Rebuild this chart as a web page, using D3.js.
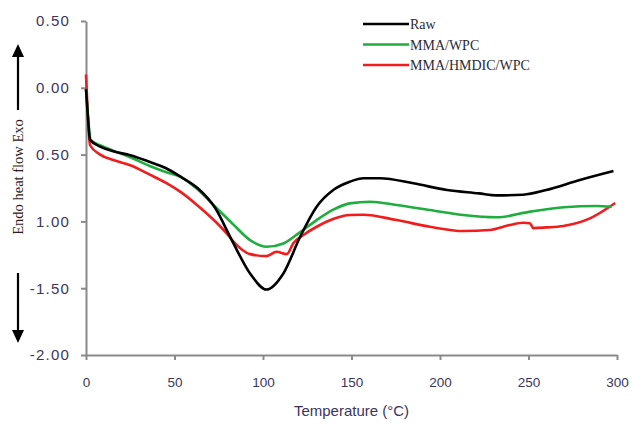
<!DOCTYPE html>
<html>
<head>
<meta charset="utf-8">
<script src="https://cdn.jsdelivr.net/npm/d3@7"></script>
<style>
  body { margin: 0; background: #fff; }
</style>
</head>
<body>
<div id="chart"></div>
<script>
// Data (temperature in °C, heat flow)
const rawT = [0, 1, 2.3, 8, 15.4, 25, 35, 45, 54, 63, 73, 82, 92.7, 102, 111.5, 121, 130.3, 139.7, 149, 157, 166, 185, 204, 222, 232, 247, 260, 279, 298];
const rawV = [-0.01, -0.2, -0.39, -0.44, -0.475, -0.505, -0.55, -0.6, -0.67, -0.75, -0.9, -1.13, -1.39, -1.51, -1.39, -1.115, -0.89, -0.765, -0.703, -0.677, -0.677, -0.715, -0.765, -0.79, -0.805, -0.8, -0.765, -0.69, -0.623];

const wpcT = [0, 1, 2.7, 8, 15.4, 25, 36, 45, 54, 63, 73, 83, 92.7, 102, 111.5, 121, 130.3, 140, 149, 160.5, 175.5, 194.3, 213, 232, 251, 270, 288.5, 297];
const wpcV = [-0.01, -0.2, -0.39, -0.43, -0.47, -0.52, -0.585, -0.63, -0.67, -0.76, -0.89, -1.02, -1.14, -1.19, -1.165, -1.08, -0.99, -0.91, -0.865, -0.853, -0.877, -0.915, -0.952, -0.969, -0.927, -0.894, -0.885, -0.89];

const hmdicT = [0, 1, 2.3, 8, 15.4, 25, 36, 45, 54, 62.5, 73.8, 79.5, 83.2, 88, 92.7, 102, 107.7, 113.4, 117.1, 123, 130.3, 140, 149, 156.7, 175.5, 194.3, 213, 228, 239.5, 247, 250.8, 252.7, 260, 269.7, 284.7, 299];
const hmdicV = [0.1, -0.2, -0.43, -0.5, -0.54, -0.58, -0.65, -0.71, -0.785, -0.875, -1.01, -1.09, -1.15, -1.21, -1.245, -1.26, -1.227, -1.245, -1.164, -1.1, -1.04, -0.98, -0.952, -0.95, -0.99, -1.04, -1.072, -1.064, -1.027, -1.01, -1.014, -1.05, -1.045, -1.034, -0.977, -0.862];

const seriesNames = ["Raw", "MMA/WPC", "MMA/HMDIC/WPC"];
const seriesColors = ["#000000", "#1fae3e", "#f21c1c"];

const xTicks = [0, 50, 100, 150, 200, 250, 300];
const yTicks = [0.5, 0, -0.5, -1, -1.5, -2];
// labels exactly as printed on the reference
const yTickLabels = ["0.50", "0.00", "0.50", "1.00", "-1.50", "-2.00"];

const width = 634, height = 424;
const margin = {top: 21, right: 17, bottom: 69, left: 86};

const svg = d3.select("#chart")
    .append("svg")
    .attr("width", width)
    .attr("height", height)
    .style("background", "#fff");

const xScale = d3.scaleLinear()
    .domain([0, 300])
    .range([margin.left, width - margin.right]);

const yScale = d3.scaleLinear()
    .domain([-2, 0.5])
    .range([height - margin.bottom, margin.top]);

// axes
const xAxis = svg.append("g")
    .attr("transform", `translate(0, ${height - margin.bottom})`)
    .call(d3.axisBottom(xScale).tickValues(xTicks).tickSize(5).tickSizeOuter(0).tickPadding(17));

const yAxis = svg.append("g")
    .attr("transform", `translate(${margin.left}, 0)`)
    .call(d3.axisLeft(yScale).tickValues(yTicks)
        .tickFormat((d, i) => yTickLabels[i])
        .tickSize(5).tickSizeOuter(0).tickPadding(11));

[xAxis, yAxis].forEach(ax => {
    ax.select(".domain").attr("stroke", "#8a8a8a").attr("stroke-width", 2);
    ax.selectAll(".tick line").attr("stroke", "#8a8a8a").attr("stroke-width", 2);
});

xAxis.selectAll(".tick text")
    .style("font-family", "Arial, 'Liberation Sans', sans-serif")
    .style("font-size", "13.5px")
    .attr("fill", "#3a3560");

yAxis.selectAll(".tick text")
    .style("font-family", "Arial, 'Liberation Sans', sans-serif")
    .style("font-size", "15px")
    .style("letter-spacing", "1.2px")
    .attr("fill", "#3a3560");

// lines
const line = d3.line()
    .x(d => xScale(d[0]))
    .y(d => yScale(d[1]))
    .curve(d3.curveMonotoneX);

const series = [
    d3.zip(rawT, rawV),
    d3.zip(wpcT, wpcV),
    d3.zip(hmdicT, hmdicV)
];

// draw red first so black sits on top like the reference
[2, 1, 0].forEach(i => {
    svg.append("path")
        .datum(series[i])
        .attr("d", line)
        .attr("fill", "none")
        .attr("stroke", seriesColors[i])
        .attr("stroke-width", 2.6)
        .attr("stroke-linejoin", "round");
});

// x-axis label
svg.append("text")
    .attr("x", (margin.left + width - margin.right) / 2)
    .attr("y", 416)
    .attr("text-anchor", "middle")
    .style("font-family", "Arial, 'Liberation Sans', sans-serif")
    .style("font-size", "15px")
    .attr("fill", "#3a3560")
    .text("Temperature (°C)");

// y-axis label with arrows
svg.append("text")
    .attr("transform", "translate(23, 177) rotate(-90)")
    .attr("text-anchor", "middle")
    .style("font-family", "'Times New Roman', 'Liberation Serif', serif")
    .style("font-size", "14.5px")
    .attr("fill", "#2d1822")
    .text("Endo heat flow Exo");

const arrowX = 18;
svg.append("line")
    .attr("x1", arrowX).attr("x2", arrowX)
    .attr("y1", 110).attr("y2", 55)
    .attr("stroke", "#000").attr("stroke-width", 2.2);
svg.append("path")
    .attr("d", `M${arrowX - 6},57 L${arrowX},44 L${arrowX + 6},57 Z`)
    .attr("fill", "#000");

svg.append("line")
    .attr("x1", arrowX).attr("x2", arrowX)
    .attr("y1", 273).attr("y2", 332)
    .attr("stroke", "#000").attr("stroke-width", 2.2);
svg.append("path")
    .attr("d", `M${arrowX - 6},330 L${arrowX},343 L${arrowX + 6},330 Z`)
    .attr("fill", "#000");

// legend
const legend = svg.selectAll(".legend")
    .data(seriesNames)
    .enter().append("g")
    .attr("class", "legend")
    .attr("transform", (d, i) => `translate(363, ${24 + i * 20.5})`);

legend.append("line")
    .attr("x1", 0).attr("x2", 46)
    .attr("y1", 0).attr("y2", 0)
    .attr("stroke", (d, i) => seriesColors[i])
    .attr("stroke-width", 2.6);

legend.append("text")
    .attr("x", 47)
    .attr("y", 5)
    .style("font-family", "'Times New Roman', 'Liberation Serif', serif")
    .style("font-size", "14px")
    .attr("fill", "#2b2b35")
    .text(d => d);
</script>
</body>
</html>
